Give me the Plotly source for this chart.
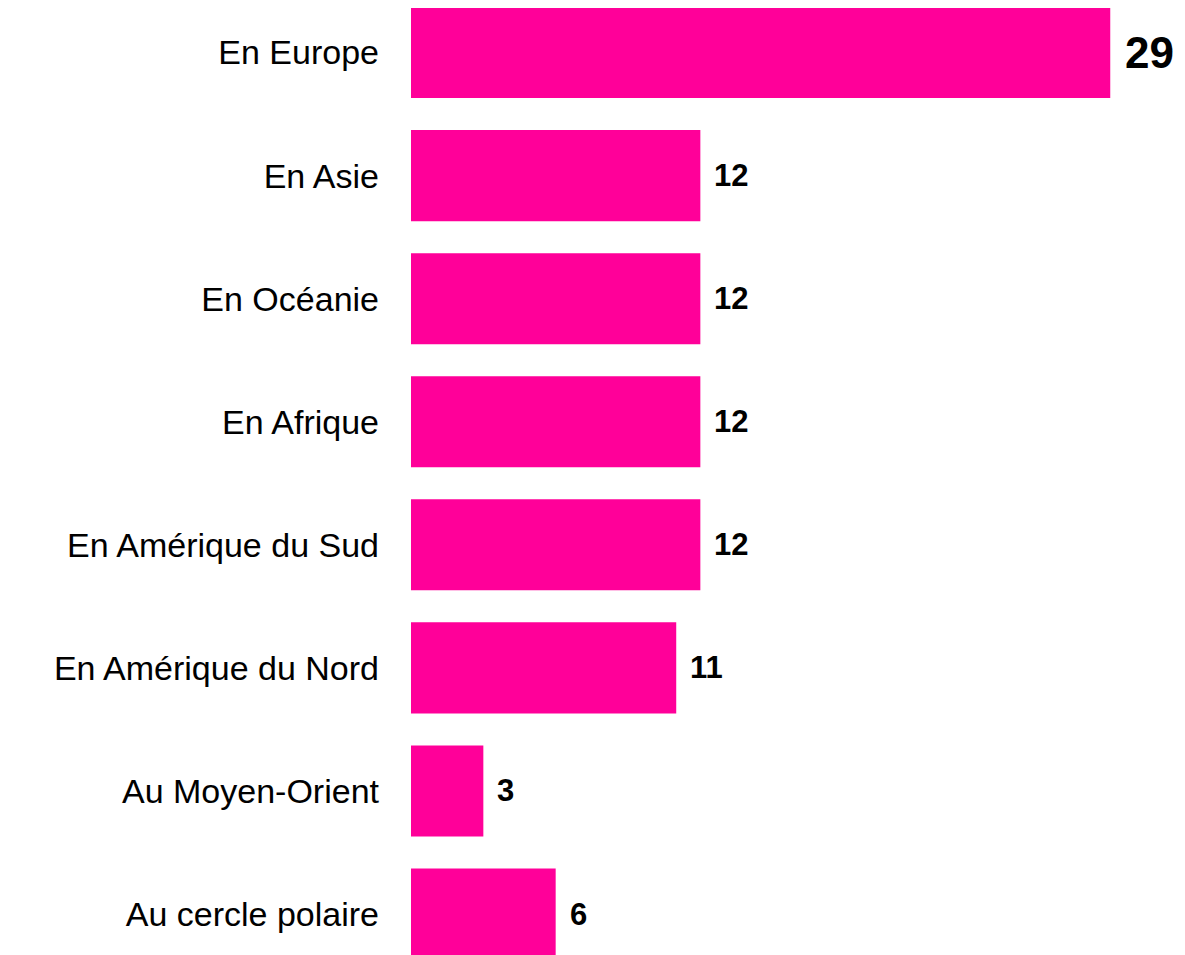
"""
Horizontal bar chart: destinations
"""

import plotly.graph_objects as go

categories = [
    "En Europe",
    "En Asie",
    "En Océanie",
    "En Afrique",
    "En Amérique du Sud",
    "En Amérique du Nord",
    "Au Moyen-Orient",
    "Au cercle polaire",
]
values = [29, 12, 12, 12, 12, 11, 3, 6]
value_labels = ["29", "12", "12", "12", "12", "11", "3", "6"]

PINK = "#FF0099"
FONT = "Liberation Sans, Arial, sans-serif"

fig = go.Figure(go.Bar(
    x=values,
    y=categories,
    orientation='h',
    marker=dict(color=PINK, line=dict(width=0)),
    hoverinfo='skip',
))

# value labels right of the bars, the top one bigger
for i, (cat, val, lab) in enumerate(zip(categories, values, value_labels)):
    fig.add_annotation(
        x=val, y=cat, text=f"<b>{lab}</b>",
        xanchor='left', yanchor='middle',
        xshift=13 if i == 0 else 12,
        showarrow=False,
        font=dict(family=FONT, size=44 if i == 0 else 31, color="#000000"),
    )

# page body has an 8px margin, so the figure is a bit smaller than the window
fig.update_layout(
    width=1177,
    height=947,
    margin=dict(l=403, r=0, t=0, b=0),
    paper_bgcolor="white",
    plot_bgcolor="white",
    bargap=0.26,
    showlegend=False,
    font=dict(family=FONT, color="#000000"),
)

fig.update_xaxes(
    range=[0, 32.1],
    visible=False,
    showgrid=False,
    zeroline=False,
)
fig.update_yaxes(
    range=[7.333, -0.362],
    showgrid=False,
    zeroline=False,
    showline=False,
    ticks="",
    ticklabelstandoff=31,
    tickfont=dict(family=FONT, size=34, color="#000000"),
)

fig.write_html("out.html")
